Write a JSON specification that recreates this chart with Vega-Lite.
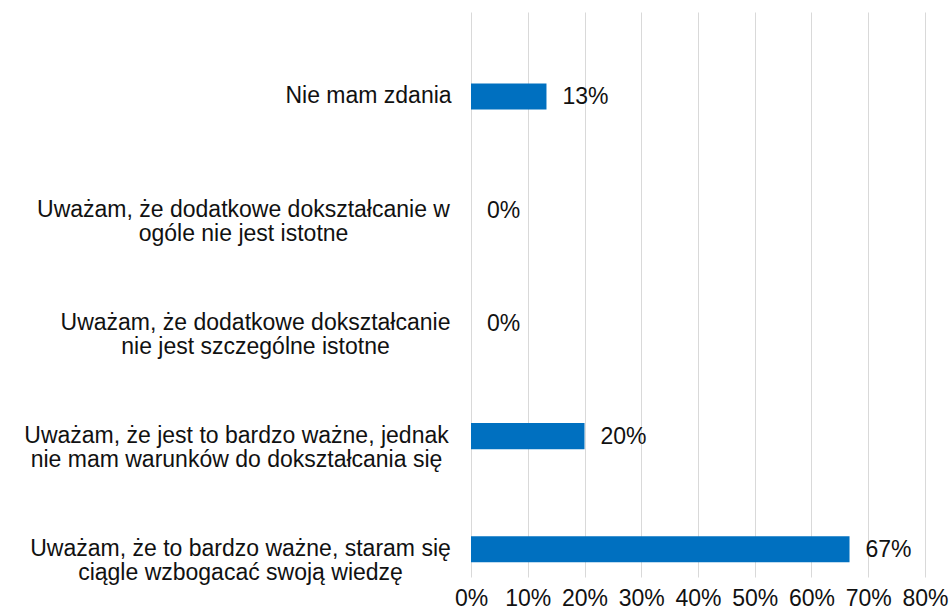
{
  "$schema": "https://vega.github.io/schema/vega-lite/v6.json",
  "width": 454,
  "height": 565,
  "autosize": {"type": "none"},
  "padding": {"left": 471, "top": 12, "right": 25, "bottom": 36},
  "background": "white",
  "config": {"view": {"stroke": null}, "font": "Liberation Sans"},
  "data": {
    "values": [
      {"odpowiedz": "Nie mam zdania", "udzial": 0.133},
      {"odpowiedz": "Uważam, że dodatkowe dokształcanie w\nogóle nie jest istotne", "udzial": 0},
      {"odpowiedz": "Uważam, że dodatkowe dokształcanie\nnie jest szczególne istotne", "udzial": 0},
      {"odpowiedz": "Uważam, że jest to bardzo ważne, jednak\nnie mam warunków do dokształcania się", "udzial": 0.2},
      {"odpowiedz": "Uważam, że to bardzo ważne, staram się\nciągle wzbogacać swoją wiedzę", "udzial": 0.667}
    ]
  },
  "encoding": {
    "y": {
      "field": "odpowiedz",
      "type": "nominal",
      "sort": null,
      "scale": {"paddingInner": 0.77, "paddingOuter": 0.38, "align": 0.83},
      "axis": {
        "title": null,
        "domain": false,
        "ticks": false,
        "labelFontSize": 23,
        "labelColor": "#111111",
        "labelLineHeight": 24,
        "labelLimit": 0,
        "labelExpr": "split(datum.label, '\\n')",
        "labelAlign": "center",
        "labelPadding": {
          "condition": [
            {"test": "indexof(datum.value, 'Nie mam') >= 0", "value": 103},
            {"test": "indexof(datum.value, 'ogóle') >= 0", "value": 228},
            {"test": "indexof(datum.value, 'szczególne') >= 0", "value": 216},
            {"test": "indexof(datum.value, 'jednak') >= 0", "value": 235}
          ],
          "value": 231
        }
      }
    },
    "x": {
      "field": "udzial",
      "type": "quantitative",
      "scale": {"domain": [0, 0.8], "nice": false},
      "axis": {
        "title": null,
        "format": ".0%",
        "values": [0, 0.1, 0.2, 0.3, 0.4, 0.5, 0.6, 0.7, 0.8],
        "domain": false,
        "ticks": false,
        "grid": true,
        "gridColor": "#d9d9d9",
        "gridWidth": 1,
        "labelFontSize": 23,
        "labelColor": "#111111",
        "labelPadding": 10,
        "labelFlush": false
      }
    }
  },
  "layer": [
    {"mark": {"type": "bar", "color": "#0070C0"}},
    {
      "mark": {"type": "text", "align": "left", "baseline": "middle", "dx": 16, "dy": 1, "fontSize": 23, "color": "#111111"},
      "encoding": {"text": {"field": "udzial", "type": "quantitative", "format": ".0%"}}
    }
  ]
}
